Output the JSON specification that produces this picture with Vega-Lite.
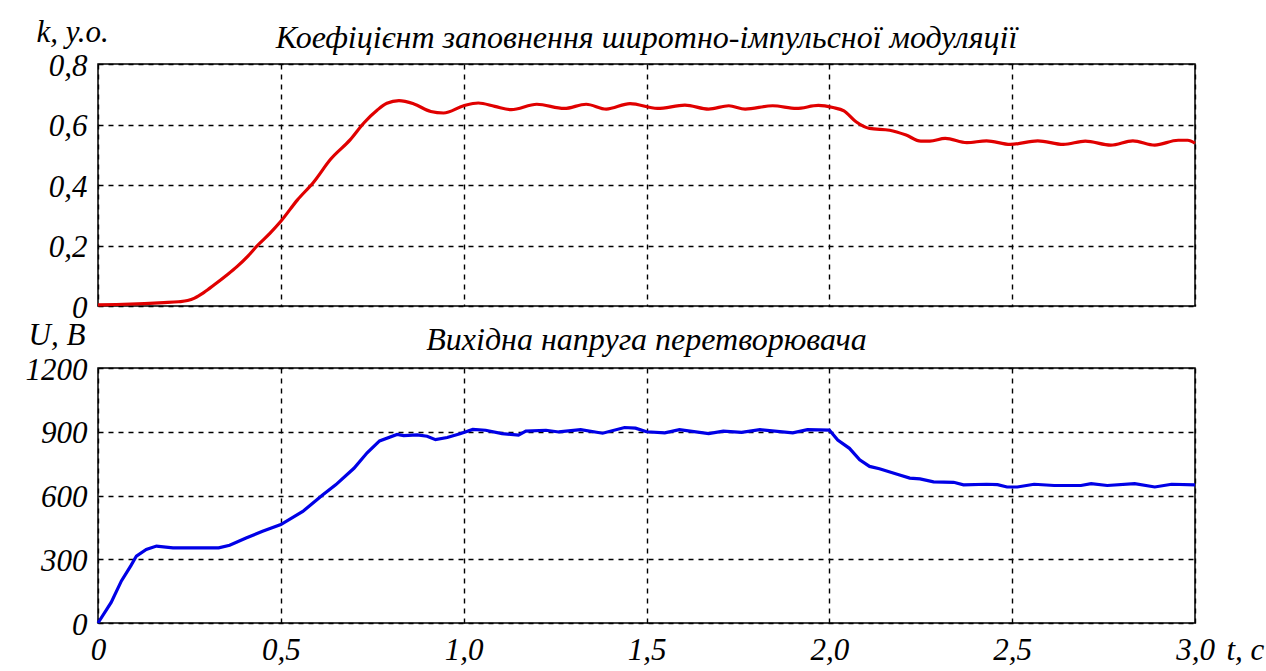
{
  "$schema": "https://vega.github.io/schema/vega-lite/v6.json",
  "autosize": {"type": "pad"},
  "padding": {"left": 24, "top": 15, "right": 0, "bottom": 0},
  "background": "white",
  "bounds": "flush",
  "spacing": 62,
  "datasets": {
    "k": [
      {"t": 0, "k": 0.004}, {"t": 0.05, "k": 0.005}, {"t": 0.127, "k": 0.008}, {"t": 0.18, "k": 0.011},
      {"t": 0.22, "k": 0.014}, {"t": 0.245, "k": 0.018}, {"t": 0.264, "k": 0.026}, {"t": 0.29, "k": 0.045},
      {"t": 0.318, "k": 0.07}, {"t": 0.35, "k": 0.1}, {"t": 0.38, "k": 0.13}, {"t": 0.41, "k": 0.165},
      {"t": 0.436, "k": 0.2}, {"t": 0.47, "k": 0.24}, {"t": 0.5, "k": 0.28}, {"t": 0.545, "k": 0.35},
      {"t": 0.59, "k": 0.41}, {"t": 0.636, "k": 0.485}, {"t": 0.69, "k": 0.55}, {"t": 0.727, "k": 0.605},
      {"t": 0.764, "k": 0.648}, {"t": 0.79, "k": 0.67}, {"t": 0.823, "k": 0.679}, {"t": 0.864, "k": 0.668},
      {"t": 0.91, "k": 0.643}, {"t": 0.945, "k": 0.638}, {"t": 1.0, "k": 0.662}, {"t": 1.04, "k": 0.671},
      {"t": 1.085, "k": 0.66}, {"t": 1.13, "k": 0.649}, {"t": 1.2, "k": 0.667}, {"t": 1.275, "k": 0.653},
      {"t": 1.335, "k": 0.667}, {"t": 1.39, "k": 0.651}, {"t": 1.455, "k": 0.669}, {"t": 1.53, "k": 0.653},
      {"t": 1.605, "k": 0.664}, {"t": 1.67, "k": 0.651}, {"t": 1.725, "k": 0.662}, {"t": 1.77, "k": 0.651},
      {"t": 1.845, "k": 0.662}, {"t": 1.91, "k": 0.653}, {"t": 1.97, "k": 0.663}, {"t": 2.01, "k": 0.656},
      {"t": 2.04, "k": 0.645}, {"t": 2.073, "k": 0.609}, {"t": 2.11, "k": 0.587}, {"t": 2.165, "k": 0.581},
      {"t": 2.21, "k": 0.565}, {"t": 2.25, "k": 0.545}, {"t": 2.275, "k": 0.545}, {"t": 2.317, "k": 0.554},
      {"t": 2.376, "k": 0.54}, {"t": 2.43, "k": 0.546}, {"t": 2.495, "k": 0.534}, {"t": 2.57, "k": 0.546},
      {"t": 2.64, "k": 0.534}, {"t": 2.7, "k": 0.545}, {"t": 2.77, "k": 0.532}, {"t": 2.83, "k": 0.546},
      {"t": 2.89, "k": 0.532}, {"t": 2.954, "k": 0.548}, {"t": 2.98, "k": 0.548}, {"t": 3.0, "k": 0.538}
    ],
    "u": [
      {"t": 0, "u": 0}, {"t": 0.036, "u": 97}, {"t": 0.064, "u": 198}, {"t": 0.09, "u": 270},
      {"t": 0.105, "u": 315}, {"t": 0.132, "u": 346}, {"t": 0.16, "u": 362}, {"t": 0.205, "u": 354},
      {"t": 0.27, "u": 354}, {"t": 0.33, "u": 354}, {"t": 0.36, "u": 366}, {"t": 0.405, "u": 400},
      {"t": 0.45, "u": 432}, {"t": 0.5, "u": 463}, {"t": 0.56, "u": 525}, {"t": 0.615, "u": 603},
      {"t": 0.65, "u": 650}, {"t": 0.7, "u": 728}, {"t": 0.736, "u": 801}, {"t": 0.77, "u": 857},
      {"t": 0.818, "u": 887}, {"t": 0.836, "u": 882}, {"t": 0.873, "u": 885}, {"t": 0.9, "u": 879},
      {"t": 0.923, "u": 863}, {"t": 0.955, "u": 873}, {"t": 0.99, "u": 891}, {"t": 1.025, "u": 911},
      {"t": 1.06, "u": 907}, {"t": 1.105, "u": 891}, {"t": 1.15, "u": 884}, {"t": 1.17, "u": 903},
      {"t": 1.225, "u": 907}, {"t": 1.26, "u": 899}, {"t": 1.32, "u": 910}, {"t": 1.38, "u": 893},
      {"t": 1.44, "u": 920}, {"t": 1.47, "u": 917}, {"t": 1.5, "u": 900}, {"t": 1.55, "u": 895},
      {"t": 1.59, "u": 910}, {"t": 1.67, "u": 891}, {"t": 1.71, "u": 903}, {"t": 1.76, "u": 897},
      {"t": 1.81, "u": 910}, {"t": 1.9, "u": 895}, {"t": 1.94, "u": 910}, {"t": 2.0, "u": 908},
      {"t": 2.023, "u": 861}, {"t": 2.055, "u": 822}, {"t": 2.083, "u": 768}, {"t": 2.11, "u": 737},
      {"t": 2.137, "u": 726}, {"t": 2.19, "u": 698}, {"t": 2.22, "u": 682}, {"t": 2.248, "u": 678},
      {"t": 2.285, "u": 664}, {"t": 2.34, "u": 662}, {"t": 2.367, "u": 650}, {"t": 2.43, "u": 653},
      {"t": 2.46, "u": 651}, {"t": 2.486, "u": 640}, {"t": 2.514, "u": 640}, {"t": 2.56, "u": 653},
      {"t": 2.615, "u": 647}, {"t": 2.688, "u": 647}, {"t": 2.716, "u": 656}, {"t": 2.76, "u": 647},
      {"t": 2.835, "u": 656}, {"t": 2.89, "u": 640}, {"t": 2.936, "u": 653}, {"t": 3.0, "u": 650}
    ]
  },
  "vconcat": [
    {
      "width": 1097,
      "height": 242,
      "title": {"text": "Коефіцієнт заповнення широтно-імпульсної модуляції", "offset": -39},
      "data": {"name": "k"},
      "mark": {"type": "line", "color": "#e00000", "strokeWidth": 3.2, "interpolate": "monotone"},
      "encoding": {
        "x": {
          "field": "t", "type": "quantitative",
          "scale": {"domain": [0, 3], "nice": false, "zero": false},
          "axis": {"values": [0, 0.5, 1, 1.5, 2, 2.5, 3], "labels": false, "title": null}
        },
        "y": {
          "field": "k", "type": "quantitative",
          "scale": {"domain": [0, 0.8], "nice": false},
          "axis": {
            "values": [0, 0.2, 0.4, 0.6, 0.8],
            "labelExpr": "datum.value == 0 ? '0' : replace(format(datum.value, '.1f'), '.', ',')",
            "labelOffset": 2,
            "title": "k, y.o.",
            "titleAngle": 0, "titleAlign": "left", "titleBaseline": "alphabetic",
            "titleX": -62, "titleY": -23
          }
        }
      }
    },
    {
      "width": 1097,
      "height": 255,
      "title": {"text": "Вихідна напруга перетворювача", "offset": -38},
      "data": {"name": "u"},
      "mark": {"type": "line", "color": "#0000e6", "strokeWidth": 3.2},
      "encoding": {
        "x": {
          "field": "t", "type": "quantitative",
          "scale": {"domain": [0, 3], "nice": false, "zero": false},
          "axis": {
            "values": [0, 0.5, 1, 1.5, 2, 2.5, 3],
            "labelExpr": "datum.value == 0 ? '0' : replace(format(datum.value, '.1f'), '.', ',')",
            "labelPadding": 12,
            "title": "t, c",
            "titleAlign": "left", "titleBaseline": "alphabetic",
            "titleX": 1128, "titleY": 36
          }
        },
        "y": {
          "field": "u", "type": "quantitative",
          "scale": {"domain": [0, 1200], "nice": false},
          "axis": {
            "values": [0, 300, 600, 900, 1200],
            "format": "d",
            "labelOffset": 2,
            "title": "U, B",
            "titleAngle": 0, "titleAlign": "left", "titleBaseline": "alphabetic",
            "titleX": -70, "titleY": -24
          }
        }
      }
    }
  ],
  "config": {
    "view": {"stroke": "black", "strokeWidth": 1.5},
    "axis": {
      "grid": true, "gridColor": "black", "gridDash": [5, 5], "gridWidth": 1.4, "gridOpacity": 1,
      "domain": false, "ticks": false,
      "labelFont": "Liberation Serif", "labelFontStyle": "italic", "labelFontSize": 31,
      "labelColor": "black", "labelPadding": 11, "labelFlush": false, "labelOverlap": false,
      "titleFont": "Liberation Serif", "titleFontStyle": "italic", "titleFontSize": 31,
      "titleFontWeight": "normal", "titleColor": "black"
    },
    "title": {
      "font": "Liberation Serif", "fontStyle": "italic", "fontSize": 32, "fontWeight": "normal",
      "color": "black", "anchor": "middle", "frame": "group", "baseline": "alphabetic"
    }
  }
}
